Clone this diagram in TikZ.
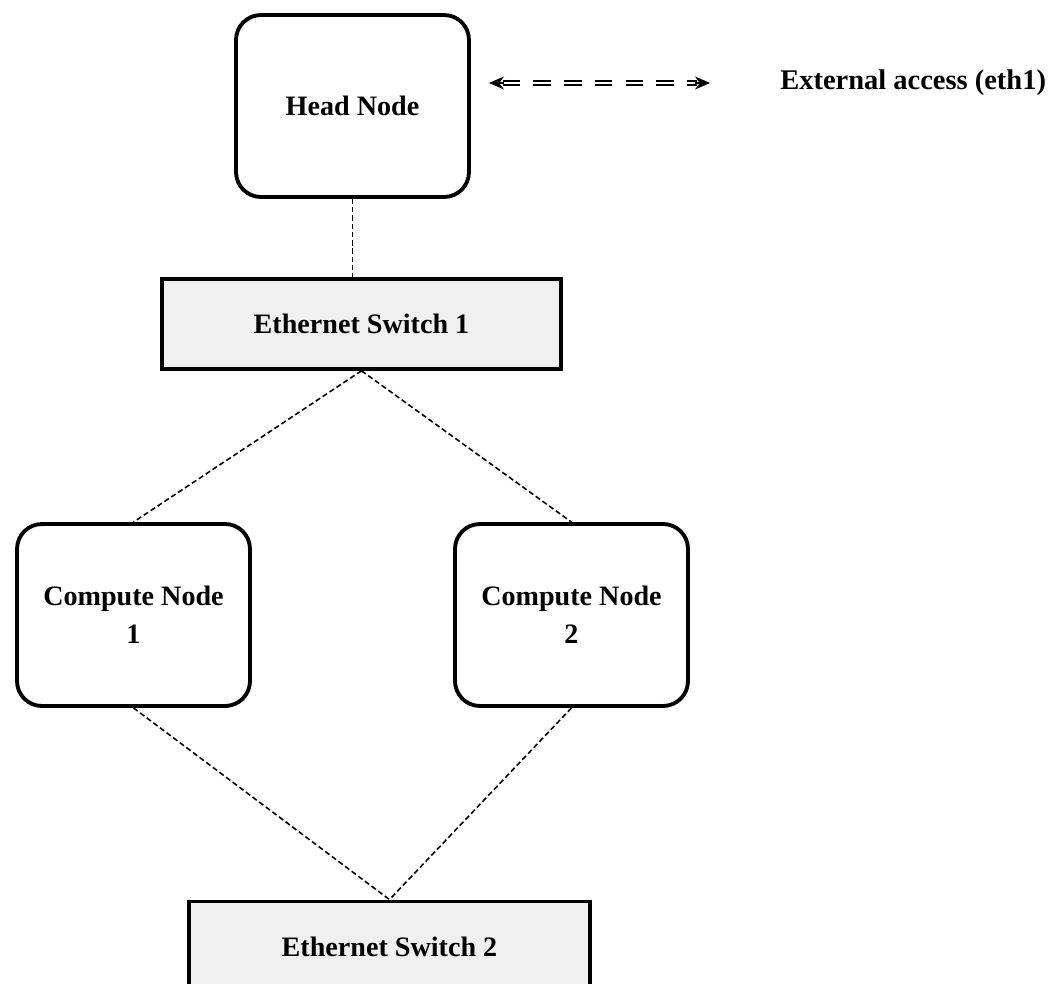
\documentclass[tikz,border=0pt]{standalone}
\usepackage{fontspec}
\setmainfont{Liberation Serif}
\usetikzlibrary{arrows.meta, positioning, calc}

\begin{document}
\begin{tikzpicture}[
    >={Stealth[length=0.3cm, width=0.26cm]},
    machine/.style={rectangle, draw, rounded corners=0.5cm, line width=2.2pt,
        fill=white, align=center, text=black,
        minimum width = 4.66cm, minimum height = 3.64cm,
        font=\fontsize{16}{21.5}\selectfont\bfseries},
    switch/.style={rectangle, draw, line width=2.2pt, fill=gray!12, text=black,
        minimum width = 7.98cm, minimum height = 1.8cm,
        font=\fontsize{16}{21.5}\selectfont\bfseries},
    link/.style={line width=0.9pt, dash pattern=on 3pt off 1.7pt}
]
    \useasboundingbox (0,0) rectangle (21.22,-19.66);

    % Nodes ------------------------------------------------------

    \node[machine] (head) at (7.05,-2.12) {Head Node};
    \node[switch, below=1.56cm of head, xshift=0.18cm] (sw1) {Ethernet Switch 1};
    \node[machine] (cn1) at (2.67,-12.3) {Compute Node\\1};
    \node[machine] (cn2) at (11.43,-12.3) {Compute Node\\2};
    \node[switch, minimum width = 8.02cm] (sw2) at (7.79,-18.93) {Ethernet Switch 2};

    % external label
    \node[anchor=west, inner sep=0pt, font=\fontsize{16.2}{18}\selectfont\bfseries]
        (ext_label) at (15.6,-1.66) {External access (eth1)};
    \coordinate (ext_l) at (9.78,-1.66);
    \coordinate (ext_r) at (14.2,-1.66);

    % Arrows ---------------------------------------------------

    \draw[link] (head.south) -- (head.south |- sw1.north);
    \draw[link] (sw1.south) -- (cn1.north);
    \draw[link] (sw1.south) -- (cn2.north);
    \draw[link] (cn1.south) -- (sw2.north);
    \draw[link] (cn2.south) -- (sw2.north);

    \draw[double, double distance=1.6pt, line width=0.9pt,
        dash pattern=on 10pt off 7.5pt, shorten <=0.27cm, shorten >=0.27cm]
        (ext_l) -- (ext_r);
    \draw[<-, line width=1pt] (ext_l) -- ++(0.3,0);
    \draw[->, line width=1pt] ($(ext_r)-(0.3,0)$) -- (ext_r);

\end{tikzpicture}
\end{document}
